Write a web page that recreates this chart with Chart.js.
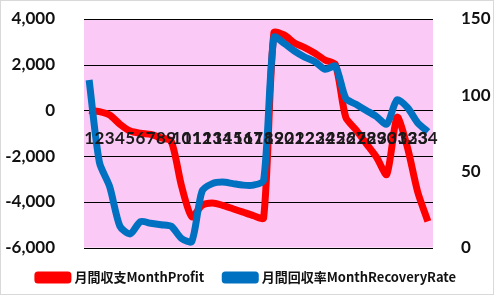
<!DOCTYPE html>
<html>
<head>
<meta charset="utf-8">
<script src="https://cdn.jsdelivr.net/npm/chart.js@4"></script>
<style>
  html, body { margin: 0; padding: 0; background: #fff; }
  #wrap { width: 494px; height: 295px; box-sizing: border-box; border: 1px solid #d9d9d9; }
  canvas { display: block; }
</style>
</head>
<body>
<div id="wrap"><canvas id="chart" width="492" height="293"></canvas></div>
<script>
let months = [];
for (let m = 1; m <= 34; m++) months.push(String(m));

// 月間収支 (left axis)
let monthProfit = [
    0, -50, -200, -600, -900, -1000, -1050, -1200, -1350, -3300,
    -4650, -4150, -4050, -4150, -4300, -4450, -4600, -4700, 3400, 3300,
    2950, 2750, 2500, 2200, 2000, -300, -850, -1450, -2050, -2800,
    -300, -1600, -3550, -4850
];
// 月間回収率 (right axis)
let monthRecoveryRate = [
    110, 56, 40, 14, 9, 17, 16, 15, 14, 6,
    4, 37, 42, 43, 42, 41, 41, 44, 138, 134,
    129, 125, 122, 117, 119, 98, 94, 90, 86, 81,
    97, 92, 82, 76
];

// pink plot area + horizontal grid on the left axis ticks
let plotBg = {
    id: 'plotBg',
    beforeDatasetsDraw(chart) {
        let a = chart.chartArea;
        let ctx = chart.ctx;
        let ys = chart.scales.y;
        ctx.save();
        ctx.fillStyle = '#fbc9f6';
        ctx.fillRect(a.left, a.top, a.right - a.left, a.bottom - a.top);
        ctx.strokeStyle = '#000';
        ctx.lineWidth = 1;
        ys.ticks.forEach(t => {
            let py = Math.round(ys.getPixelForValue(t.value)) + 0.5;
            ctx.beginPath();
            ctx.moveTo(a.left, py);
            ctx.lineTo(a.right, py);
            ctx.stroke();
        });
        ctx.restore();
    }
};

let tickFont = { family: 'Lato', size: 17, weight: 'bold' };

new Chart(document.getElementById('chart'), {
    type: 'line',
    data: {
        labels: months,
        datasets: [{
            label: '月間収支MonthProfit',
            data: monthProfit,
            yAxisID: 'y',
            borderColor: '#ff0000',
            backgroundColor: '#ff0000',
            borderWidth: 7,
            borderJoinStyle: 'round',
            pointRadius: 0,
            tension: 0.25,
            order: 2
        }, {
            label: '月間回収率MonthRecoveryRate',
            data: monthRecoveryRate,
            yAxisID: 'y1',
            borderColor: '#0070c0',
            backgroundColor: '#0070c0',
            borderWidth: 7,
            borderJoinStyle: 'round',
            pointRadius: 0,
            tension: 0.25,
            order: 1
        }]
    },
    options: {
        responsive: false,
        animation: false,
        layout: { padding: { top: 18, left: 0, right: 0, bottom: 0 } },
        plugins: {
            tooltip: { enabled: false },
            legend: {
                position: 'bottom',
                title: { display: true, text: ' ', padding: 0, font: { size: 2 } },
                labels: {
                    color: '#111',
                    font: { family: "'Noto Sans CJK JP', Lato", size: 13, weight: 'bold' },
                    boxWidth: 30,
                    boxHeight: 5,
                    padding: 21,
                    sort: (a, b) => a.datasetIndex - b.datasetIndex
                }
            }
        },
        scales: {
            x: {
                position: { y: 0 },
                offset: true,
                grid: { display: false, drawTicks: false },
                border: { display: false },
                ticks: {
                    z: 1,
                    autoSkip: false,
                    maxRotation: 0,
                    minRotation: 0,
                    padding: 18,
                    color: '#1a1a1a',
                    font: { family: 'Lato', size: 17, weight: 'bold' }
                }
            },
            y: {
                position: 'left',
                min: -6000,
                max: 4000,
                grid: { display: false },
                border: { display: false },
                ticks: { stepSize: 2000, padding: 21, color: '#111', font: tickFont },
                afterFit(s) { s.width = 83; s.paddingTop = 0; s.paddingBottom = 0; }
            },
            y1: {
                position: 'right',
                min: 0,
                max: 150,
                grid: { display: false },
                border: { display: false },
                ticks: { stepSize: 50, padding: 20, color: '#111', font: tickFont },
                afterFit(s) { s.width = 60; s.paddingTop = 0; s.paddingBottom = 0; }
            }
        }
    },
    plugins: [plotBg]
});
</script>
</body>
</html>
